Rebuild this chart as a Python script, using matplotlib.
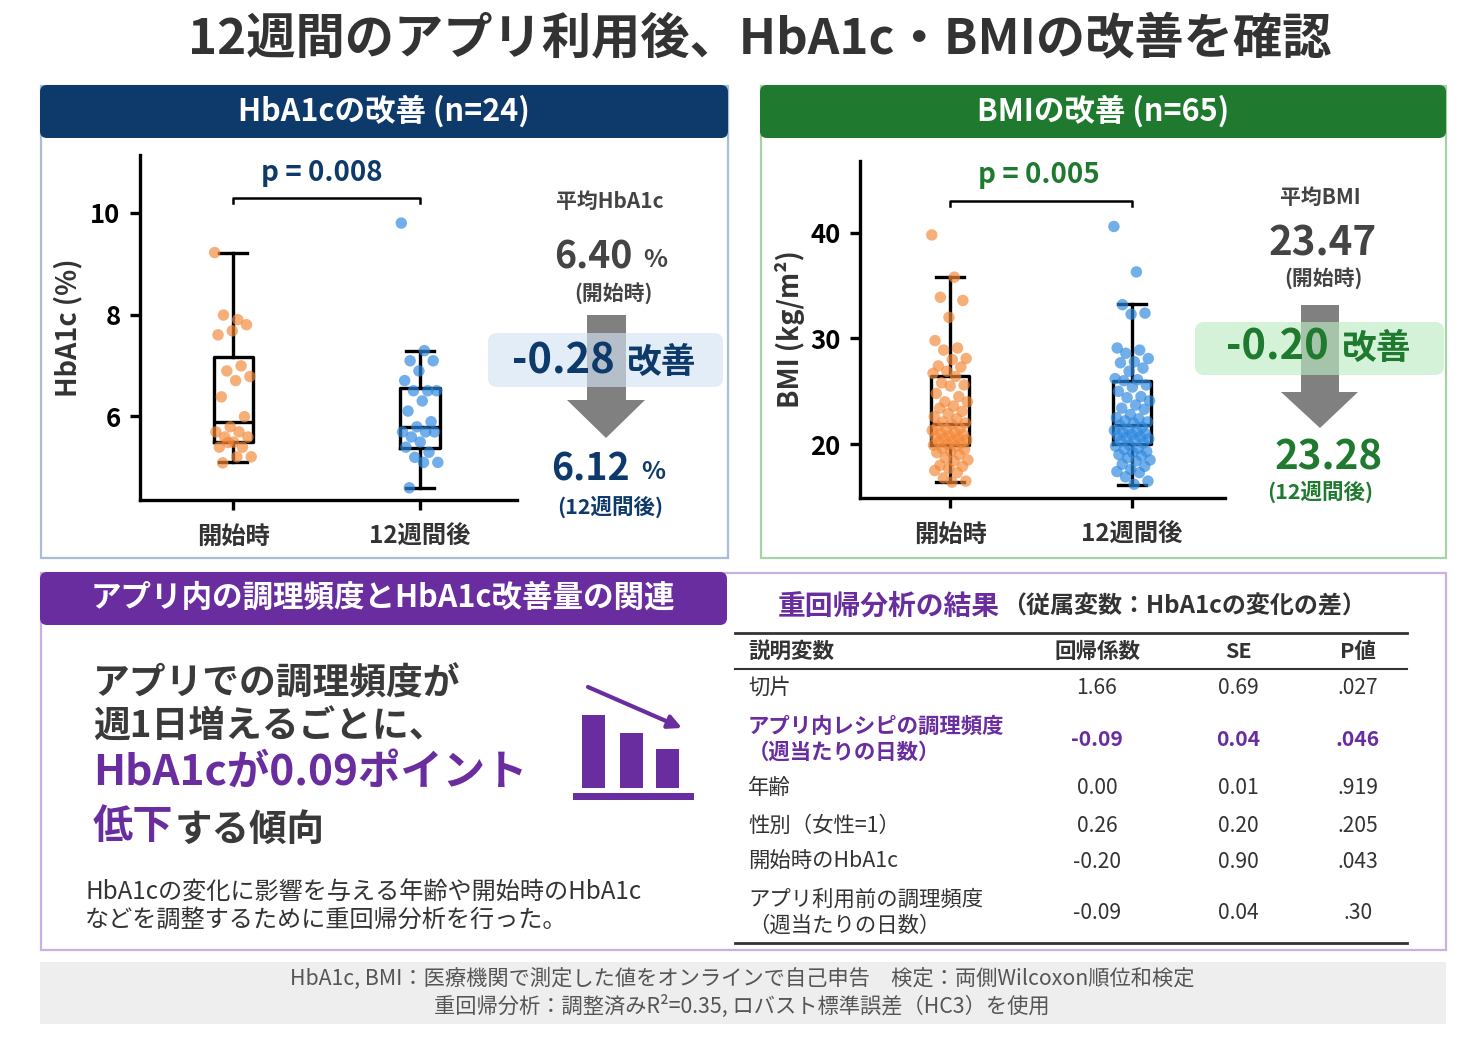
import matplotlib
matplotlib.use('Agg')
import matplotlib.pyplot as plt
from matplotlib.patches import FancyBboxPatch, Rectangle, Polygon
import numpy as np

plt.rcParams['font.family'] = ['Noto Sans CJK JP', 'DejaVu Sans']

W, H = 1475, 1038

# ---------------- data ----------------
title = '12週間のアプリ利用後、HbA1c・BMIの改善を確認'
groups = ['開始時', '12週間後']

hba1c_start = [9.22, 7.90, 7.99, 7.80, 7.68, 7.60, 6.99, 6.89, 6.78, 6.70, 6.38, 5.99,
               5.79, 5.69, 5.69, 5.59, 5.59, 5.49, 5.39, 5.39, 5.48, 5.20, 5.20, 5.08]
hba1c_after = [9.80, 7.29, 7.09, 7.09, 6.89, 6.70, 6.50, 6.50, 6.50, 6.30, 6.10, 5.89,
               5.79, 5.69, 5.69, 5.59, 5.69, 5.49, 5.39, 5.29, 5.19, 5.09, 5.09, 4.59]
hba1c_q1 = [5.49, 5.38]
hba1c_med = [5.89, 5.79]
hba1c_q3 = [7.17, 6.55]
hba1c_wlo = [5.10, 4.59]
hba1c_whi = [9.22, 7.29]
hba1c_mean = [6.40, 6.12]
hba1c_diff = -0.28
hba1c_p = 'p = 0.008'
hba1c_n = 24

bmi_start = [39.8, 35.8, 33.9, 33.6, 32.0, 29.8, 29.1, 28.9, 28.1, 28.0, 27.4, 27.3, 26.9,
             26.7, 26.4, 25.8, 25.6, 25.5, 24.8, 24.5, 24.0, 24.0, 23.6, 23.4, 23.1, 22.9,
             22.6, 22.4, 22.1, 22.0, 21.9, 21.7, 21.5, 21.4, 21.3, 21.1, 21.0, 20.9, 20.8,
             20.7, 20.6, 20.5, 20.4, 20.3, 20.2, 20.1, 20.0, 19.9, 19.8, 19.6, 19.5, 19.3,
             19.2, 19.0, 18.7, 18.5, 18.4, 18.0, 17.9, 17.7, 17.5, 17.3, 16.8, 16.5, 16.4]
bmi_after = [40.6, 36.3, 33.2, 32.4, 32.3, 29.1, 28.9, 28.6, 28.1, 27.8, 27.7, 27.2, 26.9,
             26.2, 26.1, 26.0, 25.6, 25.4, 25.0, 24.5, 24.4, 24.1, 23.7, 23.4, 23.3, 22.8,
             22.5, 22.4, 22.2, 22.1, 22.0, 21.8, 21.6, 21.4, 21.3, 21.2, 21.1, 21.0, 20.9,
             20.8, 20.7, 20.6, 20.5, 20.4, 20.3, 20.1, 19.9, 19.8, 19.6, 19.5, 19.3, 19.2,
             19.0, 18.9, 18.7, 18.5, 18.4, 18.1, 17.9, 17.6, 17.4, 17.3, 16.9, 16.5, 16.2]
bmi_q1 = [19.93, 20.03]
bmi_med = [21.92, 21.83]
bmi_q3 = [26.45, 26.01]
bmi_wlo = [16.37, 16.15]
bmi_whi = [35.78, 33.23]
bmi_mean = [23.47, 23.28]
bmi_diff = -0.20
bmi_p = 'p = 0.005'
bmi_n = 65

table_header = ['説明変数', '回帰係数', 'SE', 'P値']
table_vars = ['切片', 'アプリ内レシピの調理頻度\n（週当たりの日数）', '年齢', '性別（女性=1）',
              '開始時のHbA1c', 'アプリ利用前の調理頻度\n（週当たりの日数）']
table_coef = ['1.66', '-0.09', '0.00', '0.26', '-0.20', '-0.09']
table_se = ['0.69', '0.04', '0.01', '0.20', '0.90', '0.04']
table_p = ['.027', '.046', '.919', '.205', '.043', '.30']
table_highlight = 1

icon_bars = [73, 55, 39]

footnote1 = 'HbA1c, BMI：医療機関で測定した値をオンラインで自己申告　検定：両側Wilcoxon順位和検定'
footnote2 = '重回帰分析：調整済みR²=0.35, ロバスト標準誤差（HC3）を使用'

# ---------------- colours ----------------
NAVY = '#0d3a6b'
GREEN = '#1f7a30'
PURPLE = '#6a2d9f'
DARK = '#333333'
ORANGE = '#f4893a'
BLUE = '#2f8ae0'

fig = plt.figure(figsize=(W / 100, H / 100), dpi=100)
bg = fig.add_axes([0, 0, 1, 1])
bg.set_xlim(0, W)
bg.set_ylim(H, 0)
bg.axis('off')


def px_axes(x0, y0, x1, y1):
    return fig.add_axes([x0 / W, 1 - y1 / H, (x1 - x0) / W, (y1 - y0) / H])


def T(x, y, s, size, color=DARK, weight='bold', ha='center', va='center', **kw):
    return bg.text(x, y, s, fontsize=size, color=color, fontweight=weight, ha=ha, va=va, **kw)


# title
T(760, 40, title, 35.5, color=DARK)

# panels
def header_bar(x0, y0, x1, y1, color):
    bg.add_patch(FancyBboxPatch((x0, y0), x1 - x0, y1 - y0,
                                boxstyle='round,pad=0,rounding_size=7',
                                fc=color, ec='none', zorder=3))

bg.add_patch(Rectangle((41, 86), 687, 472, fill=False, ec='#a9bdd8', lw=1.6, zorder=1))
header_bar(40, 85, 728, 138, NAVY)
T(384, 111, f'HbA1cの改善 (n={hba1c_n})', 22, color='white', zorder=4)

bg.add_patch(Rectangle((761, 86), 685, 472, fill=False, ec='#a7d2a7', lw=1.6, zorder=1))
header_bar(760, 85, 1446, 138, GREEN)
T(1103, 111, f'BMIの改善 (n={bmi_n})', 22, color='white', zorder=4)

bg.add_patch(Rectangle((41, 573), 1405, 377, fill=False, ec='#c9b2e3', lw=1.6, zorder=1))
header_bar(40, 572, 727, 625, PURPLE)
T(383, 598, 'アプリ内の調理頻度とHbA1c改善量の関連', 22, color='white', zorder=4)

bg.add_patch(Rectangle((40, 962), 1406, 62, fc='#eeeeee', ec='none', zorder=1))
T(742, 979, footnote1, 15.3, color='#555555', weight='normal')
T(742, 1006, footnote2, 15.3, color='#555555', weight='normal')


# ---------------- box plots ----------------
def boxplot(ax, datas, q1, med, q3, wlo, whi, ylim, xlim, yticks, ylabel, ptxt, pcol,
            bracket_y, bracket_lo, ptxt_x, ptxt_y):
    ax.patch.set_alpha(0)
    stats = [dict(q1=q1[i], med=med[i], q3=q3[i], whislo=wlo[i], whishi=whi[i], fliers=[])
             for i in range(2)]
    lp = dict(color='black', lw=2.4)
    ax.bxp(stats, positions=[0, 1], widths=0.21, capwidths=0.15, showfliers=False,
           boxprops=lp, medianprops=lp, whiskerprops=lp, capprops=lp,
           manage_ticks=False, zorder=2)
    cols = [ORANGE, BLUE]
    for i, vals in enumerate(datas):
        n = len(vals)
        jit = ((np.arange(n) * 0.6180339887) % 1 - 0.5) * 0.2
        ax.scatter(i + jit, vals, s=68, color=cols[i], alpha=0.68, edgecolors='none', zorder=3)
    ax.set_xlim(*xlim)
    ax.set_ylim(*ylim)
    for s in ['top', 'right']:
        ax.spines[s].set_visible(False)
    for s in ['left', 'bottom']:
        ax.spines[s].set_linewidth(2.4)
        ax.spines[s].set_color('black')
    ax.set_yticks(yticks, [str(t) for t in yticks], fontsize=18.5, fontweight='bold')
    ax.set_xticks([0, 1], groups, fontsize=17.5, fontweight='bold', color=DARK)
    ax.tick_params(axis='both', length=7, width=2.4, color='black')
    ax.tick_params(axis='x', pad=11)
    ax.tick_params(axis='y', pad=7)
    ax.set_ylabel(ylabel, fontsize=19.5, fontweight='bold', color=DARK)
    ax.yaxis.set_label_coords(-0.152, 0.5)
    ax.plot([0, 0, 1, 1], [bracket_lo, bracket_y, bracket_y, bracket_lo], color='black',
            lw=1.8, clip_on=False)
    ax.text(ptxt_x, ptxt_y, ptxt, ha='center', va='center', fontsize=20, fontweight='bold',
            color=pcol, clip_on=False)


ax1 = px_axes(140, 155, 517, 500)
boxplot(ax1, [hba1c_start, hba1c_after], hba1c_q1, hba1c_med, hba1c_q3, hba1c_wlo, hba1c_whi,
        (4.35, 11.14), (-0.5, 1.52), [6, 8, 10], 'HbA1c (%)', hba1c_p, NAVY,
        10.29, 10.19, 0.475, 10.78)

ax2 = px_axes(860, 161, 1225, 498)
boxplot(ax2, [bmi_start, bmi_after], bmi_q1, bmi_med, bmi_q3, bmi_wlo, bmi_whi,
        (14.9, 46.8), (-0.494, 1.51), [20, 30, 40], 'BMI (kg/m²)', bmi_p, GREEN,
        43.0, 42.5, 0.49, 45.45)


# ---------------- mean summaries ----------------
def summary(cx, label, start_txt, after_txt, diff_txt, color, pct, box, arrow,
            y_lab, y_start, y_s2, y_diff, y_after, y_a2, big, diff_x, kai_x, boxcol, pct_x=None):
    T(cx, y_lab, label, 15, color='#444444')
    sx, ax_ = arrow['shaft']
    bg.add_patch(Polygon([(sx, arrow['top']), (ax_, arrow['top']), (ax_, arrow['neck']),
                          (arrow['hr'], arrow['neck']), (arrow['tipx'], arrow['tip']),
                          (arrow['hl'], arrow['neck']), (sx, arrow['neck'])],
                         closed=True, fc='#808080', ec='none', zorder=2))
    bx0, by0, bx1, by1 = box
    bg.add_patch(FancyBboxPatch((bx0, by0), bx1 - bx0, by1 - by0,
                                boxstyle='round,pad=0,rounding_size=9',
                                fc=boxcol, ec='none', alpha=0.64, zorder=3))
    T(diff_x, y_diff, diff_txt, 30, color=color, zorder=4)
    T(kai_x, y_diff + 1, '改善', 25, color=color, zorder=4)
    T(start_txt[1], y_start, start_txt[0], big, color='#444444')
    T(after_txt[1], y_after, after_txt[0], big, color=color)
    if pct:
        T(pct_x, y_start + 3, '%', 18, color='#444444', ha='left')
        T(pct_x - 2, y_after + 3, '%', 18, color=color, ha='left')
    T(cx + 3, y_s2, '(開始時)', 15, color='#444444')
    T(cx, y_a2, '(12週間後)', 15.5, color=color)


summary(610, '平均HbA1c', (f'{hba1c_mean[0]:.2f}', 593), (f'{hba1c_mean[1]:.2f}', 590),
        f'{hba1c_diff:.2f}', NAVY, True, (488, 333, 723, 387),
        dict(shaft=(587, 626), top=315, neck=400, hl=567, hr=645, tipx=606, tip=438),
        201, 257, 293, 361, 469, 507, 27, 563, 662, '#d3e4f4', pct_x=643)

summary(1320, '平均BMI', (f'{bmi_mean[0]:.2f}', 1323), (f'{bmi_mean[1]:.2f}', 1329),
        f'{bmi_diff:.2f}', GREEN, False, (1195, 322, 1444, 375),
        dict(shaft=(1301, 1339), top=305, neck=392, hl=1281, hr=1358, tipx=1320, tip=428),
        197, 244, 278, 348, 458, 492, 29, 1277, 1377, '#bdebc2')


# ---------------- bottom-left message ----------------
TXT = '#3a3a3a'
T(93, 684, 'アプリでの調理頻度が', 26.5, color=TXT, ha='left')
T(93, 727, '週1日増えるごとに、', 26.5, color=TXT, ha='left')
T(93, 773, f'HbA1cが{abs(float(table_coef[table_highlight])):.2f}ポイント', 30.5,
  color=PURPLE, ha='left')
T(93, 827, '低下', 29, color=PURPLE, ha='left')
T(175, 829, 'する傾向', 27, color=TXT, ha='left')
T(85, 892, 'HbA1cの変化に影響を与える年齢や開始時のHbA1c', 17.4, color=DARK, weight='normal', ha='left')
T(85, 920, 'などを調整するために重回帰分析を行った。', 17.4, color=DARK, weight='normal', ha='left')

# icon (bars with downward trend)
icon_ax = px_axes(573, 680, 694, 801)
icon_ax.axis('off')
icon_ax.set_xlim(0, 121)
icon_ax.set_ylim(-13, 108)
icon_ax.bar([20.5, 58, 94], icon_bars, width=23, color=PURPLE, bottom=0)
icon_ax.add_patch(Rectangle((0, -12), 121, 7, fc=PURPLE, ec='none'))
bg.annotate('', xy=(682, 728), xytext=(588, 687),
            arrowprops=dict(arrowstyle='-|>', color=PURPLE, lw=3, mutation_scale=20,
                            shrinkA=0, shrinkB=0))

# ---------------- table ----------------
T(778, 607, '重回帰分析の結果', 20, color=PURPLE, ha='left')
T(1002, 607, '（従属変数：HbA1cの変化の差）', 17.3, color=DARK, ha='left')
bg.plot([735, 1407], [633, 633], color='#333333', lw=2)
bg.plot([735, 1407], [669, 669], color='#333333', lw=1.5)
bg.plot([735, 1407], [943, 943], color='#333333', lw=2)
col_x = [748, 1097, 1238, 1358]
T(col_x[0], 651, table_header[0], 15.5, ha='left')
for cx, h in zip(col_x[1:], table_header[1:]):
    T(cx, 651, h, 15.5)
row_y = [688, 739, 788, 826, 862, 913]
for i, (lab, c, se, p) in enumerate(zip(table_vars, table_coef, table_se, table_p)):
    hl = i == table_highlight
    col = PURPLE if hl else DARK
    wt = 'bold' if hl else 'normal'
    lines = lab.split('\n')
    if len(lines) == 1:
        T(col_x[0], row_y[i], lines[0], 15.4, color=col, weight=wt, ha='left')
    else:
        T(col_x[0], row_y[i] - 13, lines[0], 15.4, color=col, weight=wt, ha='left')
        T(col_x[0], row_y[i] + 13, lines[1], 15.4, color=col, weight=wt, ha='left')
    for cx, v in zip(col_x[1:], [c, se, p]):
        T(cx, row_y[i], v, 15.2, color=col, weight=wt)

fig.savefig('out.png', dpi=100)
